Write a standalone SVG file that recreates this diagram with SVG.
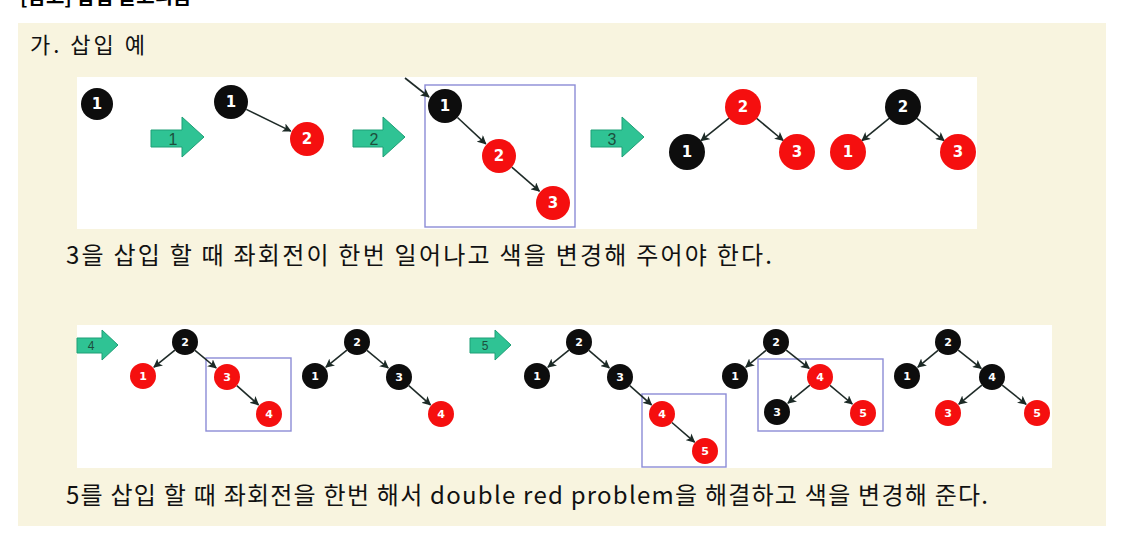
<svg xmlns="http://www.w3.org/2000/svg" width="1126" height="536" viewBox="0 0 1126 536">
<defs>
<marker id="ah" viewBox="0 0 10 10" refX="9" refY="5" markerWidth="9" markerHeight="9" markerUnits="userSpaceOnUse" orient="auto">
<path d="M0,0 L10,5 L0,10 L2.5,5 Z" fill="#1c2a26"/>
</marker>
<style>
.kt{font-family:"Noto Sans CJK KR","Noto Sans",sans-serif;fill:#111}
.blk{fill:#0d0d0d}
.red{fill:#f50f0f}
.lb{font-family:"DejaVu Sans","Liberation Sans",sans-serif;font-weight:bold;fill:#fff;text-anchor:middle}
.big{font-size:15px}
.sm{font-size:11px}
.e{stroke:#1f2b28;stroke-width:1.6;fill:none;marker-end:url(#ah)}
.box{fill:none;stroke:#8c8cd6;stroke-width:1.4}
.ga{fill:#2fc394;stroke:#1f9f76;stroke-width:1}
.gl{font-family:"Liberation Sans",sans-serif;fill:#1d4f3d;text-anchor:middle}
</style>
</defs>
<rect x="0" y="0" width="1126" height="536" fill="#ffffff"/>
<text x="20" y="4" font-family="'Noto Sans CJK KR',sans-serif" font-weight="bold" font-size="20" fill="#000">[참고] 삽입 알고리즘</text>
<rect x="18" y="23" width="1088" height="503" fill="#f8f4df"/>
<rect x="77" y="77" width="900" height="152" fill="#ffffff"/>
<rect x="77" y="325" width="975" height="143" fill="#ffffff"/>
<text class="kt" x="30" y="53" font-size="22" textLength="115">가. 삽입 예</text>
<text class="kt" x="66" y="264" font-size="24" textLength="706">3을 삽입 할 때 좌회전이 한번 일어나고 색을 변경해 주어야 한다.</text>
<text class="kt" x="66" y="504" font-size="24" textLength="922">5를 삽입 할 때 좌회전을 한번 해서 double red problem을 해결하고 색을 변경해 준다.</text>

<g id="steps">
<g id="step1"><path class="ga" d="M151,130 L182,130 L182,117 L204,137 L182,157 L182,147 L151,147 Z"/><text class="gl" x="173" y="145" font-size="16">1</text></g>
<g id="step2"><path class="ga" d="M353,130 L383,130 L383,117 L405,137 L383,157 L383,147 L353,147 Z"/><text class="gl" x="374" y="145" font-size="16">2</text></g>
<g id="step3"><path class="ga" d="M591,130 L622,130 L622,117 L644,137 L622,157 L622,147 L591,147 Z"/><text class="gl" x="612" y="145" font-size="16">3</text></g>
<g id="step4"><path class="ga" d="M77,338 L102,338 L102,330 L118,345 L102,360 L102,353 L77,353 Z"/><text class="gl" x="91" y="350" font-size="12">4</text></g>
<g id="step5"><path class="ga" d="M470,338 L495,338 L495,330 L511,345 L495,360 L495,353 L470,353 Z"/><text class="gl" x="485" y="350" font-size="12">5</text></g>
</g>

<g id="boxes">
<rect class="box" x="425" y="85" width="150" height="142"/>
<rect class="box" x="206" y="358" width="85" height="73"/>
<rect class="box" x="642" y="394" width="84" height="73"/>
<rect class="box" x="758" y="359" width="125" height="72"/>
</g>

<g id="connectors">
<line class="e" x1="405" y1="78" x2="429" y2="97"/>
<line class="e" x1="246.3" y1="109.4" x2="290.8" y2="131.1"/>
<line class="e" x1="457.5" y1="117.5" x2="485.8" y2="143.8"/>
<line class="e" x1="511.8" y1="167.2" x2="539.4" y2="191.2"/>
<line class="e" x1="729.7" y1="117.7" x2="701" y2="140.7"/>
<line class="e" x1="756" y1="117.9" x2="783.2" y2="140.5"/>
<line class="e" x1="889.8" y1="117.8" x2="861.9" y2="140.6"/>
<line class="e" x1="916.2" y1="117.8" x2="944.1" y2="140.6"/>
<line class="e" x1="174.9" y1="350.2" x2="153.9" y2="367.2"/>
<line class="e" x1="195" y1="350.3" x2="216.2" y2="368"/>
<line class="e" x1="236.8" y1="385.6" x2="258.5" y2="404.8"/>
<line class="e" x1="346.9" y1="350.2" x2="325.9" y2="367.2"/>
<line class="e" x1="367" y1="350.3" x2="388.2" y2="368"/>
<line class="e" x1="408.8" y1="385.6" x2="430.5" y2="404.8"/>
<line class="e" x1="568.9" y1="350.2" x2="547.9" y2="367.2"/>
<line class="e" x1="588.9" y1="350.4" x2="609.3" y2="367.9"/>
<line class="e" x1="629.8" y1="385.6" x2="651.5" y2="404.8"/>
<line class="e" x1="671.9" y1="422.5" x2="694.6" y2="442.1"/>
<line class="e" x1="766" y1="350.3" x2="745.8" y2="367.1"/>
<line class="e" x1="786.2" y1="350.1" x2="809.2" y2="368.4"/>
<line class="e" x1="809.9" y1="385.2" x2="787.9" y2="403.1"/>
<line class="e" x1="830" y1="385.3" x2="852.3" y2="404"/>
<line class="e" x1="938" y1="350.3" x2="917.8" y2="367.1"/>
<line class="e" x1="958.2" y1="350.1" x2="981.2" y2="368.4"/>
<line class="e" x1="981.9" y1="385.2" x2="958.8" y2="404.1"/>
<line class="e" x1="1002.2" y1="385.1" x2="1026.1" y2="404.3"/>
</g>

<g id="n-t1-1"><circle class="blk" cx="97" cy="104" r="16"/><text class="lb big" x="97" y="109">1</text></g>
<g id="n-t2-1"><circle class="blk" cx="231" cy="102" r="17"/><text class="lb big" x="231" y="107">1</text></g>
<g id="n-t2-2"><circle class="red" cx="307" cy="139" r="17"/><text class="lb big" x="307" y="144">2</text></g>
<g id="n-t3-1"><circle class="blk" cx="445" cy="106" r="17"/><text class="lb big" x="445" y="111">1</text></g>
<g id="n-t3-2"><circle class="red" cx="499" cy="156" r="17"/><text class="lb big" x="499" y="161">2</text></g>
<g id="n-t3-3"><circle class="red" cx="553" cy="203" r="17"/><text class="lb big" x="553" y="208">3</text></g>
<g id="n-t4-2"><circle class="red" cx="743" cy="107" r="18"/><text class="lb big" x="743" y="112">2</text></g>
<g id="n-t4-1"><circle class="blk" cx="687" cy="152" r="18"/><text class="lb big" x="687" y="157">1</text></g>
<g id="n-t4-3"><circle class="red" cx="797" cy="152" r="18"/><text class="lb big" x="797" y="157">3</text></g>
<g id="n-t5-2"><circle class="blk" cx="903" cy="107" r="18"/><text class="lb big" x="903" y="112">2</text></g>
<g id="n-t5-1"><circle class="red" cx="848" cy="152" r="18"/><text class="lb big" x="848" y="157">1</text></g>
<g id="n-t5-3"><circle class="red" cx="958" cy="152" r="18"/><text class="lb big" x="958" y="157">3</text></g>

<g id="n-a-2"><circle class="blk" cx="185" cy="342" r="13"/><text class="lb sm" x="185" y="346">2</text></g>
<g id="n-a-1"><circle class="red" cx="143" cy="376" r="13"/><text class="lb sm" x="143" y="380">1</text></g>
<g id="n-a-3"><circle class="red" cx="227" cy="377" r="13"/><text class="lb sm" x="227" y="381">3</text></g>
<g id="n-a-4"><circle class="red" cx="269" cy="414" r="13"/><text class="lb sm" x="269" y="418">4</text></g>

<g id="n-b-2"><circle class="blk" cx="357" cy="342" r="13"/><text class="lb sm" x="357" y="346">2</text></g>
<g id="n-b-1"><circle class="blk" cx="315" cy="376" r="13"/><text class="lb sm" x="315" y="380">1</text></g>
<g id="n-b-3"><circle class="blk" cx="399" cy="377" r="13"/><text class="lb sm" x="399" y="381">3</text></g>
<g id="n-b-4"><circle class="red" cx="441" cy="414" r="13"/><text class="lb sm" x="441" y="418">4</text></g>

<g id="n-c-2"><circle class="blk" cx="579" cy="342" r="13"/><text class="lb sm" x="579" y="346">2</text></g>
<g id="n-c-1"><circle class="blk" cx="537" cy="376" r="13"/><text class="lb sm" x="537" y="380">1</text></g>
<g id="n-c-3"><circle class="blk" cx="620" cy="377" r="13"/><text class="lb sm" x="620" y="381">3</text></g>
<g id="n-c-4"><circle class="red" cx="662" cy="414" r="13"/><text class="lb sm" x="662" y="418">4</text></g>
<g id="n-c-5"><circle class="red" cx="705" cy="451" r="13"/><text class="lb sm" x="705" y="455">5</text></g>

<g id="n-d-2"><circle class="blk" cx="776" cy="342" r="13"/><text class="lb sm" x="776" y="346">2</text></g>
<g id="n-d-1"><circle class="blk" cx="735" cy="376" r="13"/><text class="lb sm" x="735" y="380">1</text></g>
<g id="n-d-4"><circle class="red" cx="820" cy="377" r="13"/><text class="lb sm" x="820" y="381">4</text></g>
<g id="n-d-3"><circle class="blk" cx="777" cy="412" r="13"/><text class="lb sm" x="777" y="416">3</text></g>
<g id="n-d-5"><circle class="red" cx="863" cy="413" r="13"/><text class="lb sm" x="863" y="417">5</text></g>

<g id="n-e-2"><circle class="blk" cx="948" cy="342" r="13"/><text class="lb sm" x="948" y="346">2</text></g>
<g id="n-e-1"><circle class="blk" cx="907" cy="376" r="13"/><text class="lb sm" x="907" y="380">1</text></g>
<g id="n-e-4"><circle class="blk" cx="992" cy="377" r="13"/><text class="lb sm" x="992" y="381">4</text></g>
<g id="n-e-3"><circle class="red" cx="948" cy="413" r="13"/><text class="lb sm" x="948" y="417">3</text></g>
<g id="n-e-5"><circle class="red" cx="1037" cy="413" r="13"/><text class="lb sm" x="1037" y="417">5</text></g>
</svg>
